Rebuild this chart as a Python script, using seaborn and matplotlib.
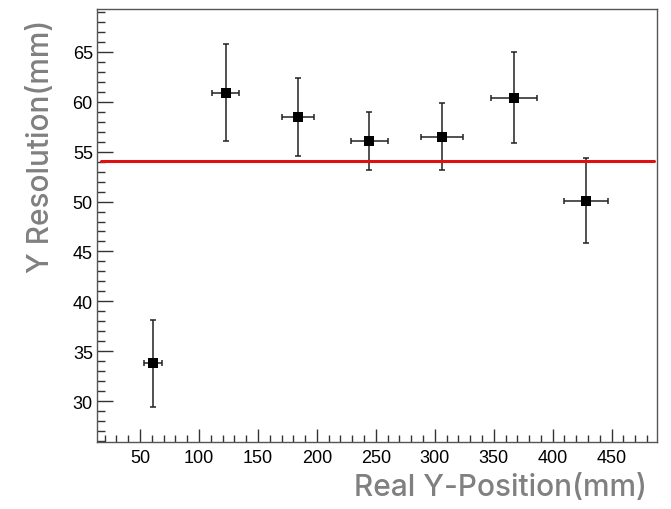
import numpy as np
import pandas as pd
import seaborn as sns
import matplotlib.pyplot as plt
from matplotlib.ticker import MultipleLocator

# pontos medidos
posicao_real = [61, 122.7, 184, 244.5, 306, 367.5, 428.3]
resolucao = [33.8, 60.9, 58.5, 56.1, 56.5, 60.4, 50.1]
erro_x = [7.8, 11.5, 13.8, 16.0, 17.7, 19.5, 19.0]
erro_y = [4.35, 4.85, 3.9, 2.9, 3.35, 4.55, 4.25]

# ajuste constante (pol0)
valor_ajuste = 54.1
faixa_ajuste = [17, 486]

dados = pd.DataFrame({'x': posicao_real, 'y': resolucao})
ajuste = pd.DataFrame({'x': faixa_ajuste, 'y': [valor_ajuste] * 2})

sns.set_style('ticks')
plt.rcParams['font.family'] = ['Liberation Sans', 'DejaVu Sans']

fig = plt.figure(figsize=(6.71, 5.10), dpi=100)
ax = fig.add_axes([0.1446, 0.1314, 0.8346, 0.8490])

ax.errorbar(posicao_real, resolucao, xerr=erro_x, yerr=erro_y, fmt='none',
            ecolor='#222222', elinewidth=1.1, capsize=2.2, capthick=1.1, zorder=2)
sns.lineplot(data=ajuste, x='x', y='y', color='#e01010', linewidth=2.2, ax=ax, zorder=3)
sns.scatterplot(data=dados, x='x', y='y', marker='s', s=55, color='black',
                edgecolor='black', linewidth=0, ax=ax, zorder=4)

ax.set_xlim(13.5, 488.5)
ax.set_ylim(25.9, 69.3)
ax.xaxis.set_major_locator(MultipleLocator(50))
ax.xaxis.set_minor_locator(MultipleLocator(10))
ax.yaxis.set_major_locator(MultipleLocator(5))
ax.yaxis.set_minor_locator(MultipleLocator(1))
ax.tick_params(which='both', direction='in', colors='#333333', width=1.0,
               labelsize=13, labelcolor='black')
ax.tick_params(axis='y', which='major', length=11.5, pad=3)
ax.tick_params(axis='y', which='minor', length=6)
ax.tick_params(axis='x', which='major', length=9.5, pad=5)
ax.tick_params(axis='x', which='minor', length=5)
for lado in ax.spines.values():
    lado.set_visible(True)
    lado.set_color('#555555')
    lado.set_linewidth(1.0)

ax.set_xlabel('Real Y-Position(mm)', loc='right', fontsize=21.5, color='#808080',
              family=['Inter', 'DejaVu Sans'], fontweight='medium')
ax.set_ylabel('Y Resolution(mm)', loc='top', fontsize=21.5, color='#808080',
              family=['Inter', 'DejaVu Sans'], fontweight='medium')
ax.xaxis.set_label_coords(0.982, -0.072)
ax.yaxis.set_label_coords(-0.075, 0.977)

fig.savefig('out.png', dpi=100)
